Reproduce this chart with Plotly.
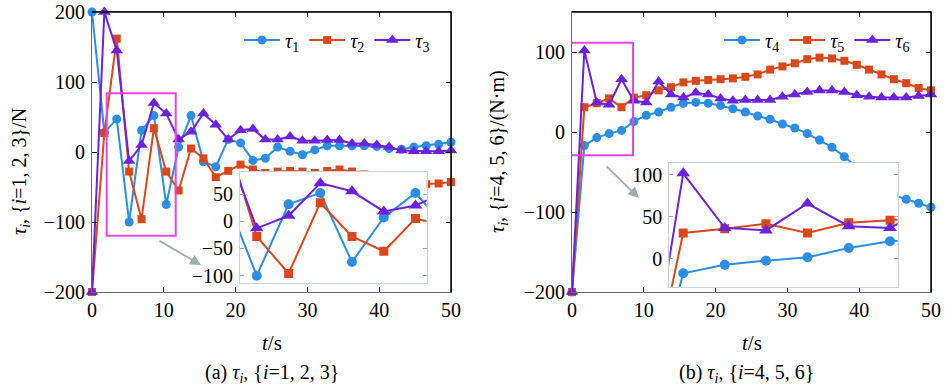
import plotly.graph_objects as go

# ---------------- data ----------------
t = [0.00, 1.72, 3.45, 5.17, 6.90, 8.62, 10.34, 12.07, 13.79, 15.52,
     17.24, 18.97, 20.69, 22.41, 24.14, 25.86, 27.59, 29.31, 31.03, 32.76,
     34.48, 36.21, 37.93, 39.66, 41.38, 43.10, 44.83, 46.55, 48.28, 50.00]

tau1 = [200, 28, 47, -100, 31, 52, -75, 7, 52, -14,
        -21, 18, 13, -12, -9, 7, 1, -4, 3, 9,
        9, 9, 9, 8, 5, 4, 7, 9, 11, 14]
tau2 = [-200, 27, 162, -28, -96, 34, -28, -55, 5, -9,
        -36, -27, -18, -25, -30, -28, -27, -28, -30, -27,
        -25, -28, -32, -36, -40, -44, -46, -46, -45, -43]
tau3 = [-200, 200, 145, -13, 10, 70, 55, 18, 29, 55,
        39, 18, 31, 33, 18, 18, 22, 16, 16, 17,
        17, 12, 12, 10, 7, 2, 1, 1, 1, 2]

tau4 = [-200, -17, -7, -2, 2, 13, 21, 25, 31, 36,
        37, 36, 33, 29, 25, 20, 16, 10, 5, -2,
        -10, -19, -31, -44, -57, -69, -79, -84, -89, -94]
tau5 = [-200, 31, 36, 42, 31, 43, 46, 52, 56, 62,
        64, 65, 66, 67, 69, 72, 78, 82, 86, 91,
        93, 92, 89, 84, 78, 72, 66, 61, 55, 52]
tau6 = [-200, 102, 37, 34, 66, 39, 37, 63, 47, 43,
        49, 47, 42, 39, 40, 40, 40, 44, 47, 50,
        52, 52, 50, 46, 44, 43, 43, 43, 45, 47]

names_a = ["<i>τ</i><sub>1</sub>", "<i>τ</i><sub>2</sub>", "<i>τ</i><sub>3</sub>"]
names_b = ["<i>τ</i><sub>4</sub>", "<i>τ</i><sub>5</sub>", "<i>τ</i><sub>6</sub>"]
x_ticks = [0, 10, 20, 30, 40, 50]
ya_ticks = [-200, -100, 0, 100, 200]
yb_ticks = [-200, -100, 0, 100]
ia_ticks = [-100, -50, 0, 50]
ib_ticks = [0, 50, 100]

# ---------------- style ----------------
BLUE = "#2b8de3"
RED = "#d8481a"
PURP = "#6a22de"
MAG = "#e545e8"
FONT = "Liberation Serif"
W, H = 945, 392

def px(x):
    return x / W

def py(y):
    return (H - y) / H

styles = [
    (BLUE, "circle", 9),
    (RED, "square", 8),
    (PURP, "triangle-up", 11),
]

fig = go.Figure()

series_a = [tau1, tau2, tau3]
series_b = [tau4, tau5, tau6]

for i, (ys, nm) in enumerate(zip(series_a, names_a)):
    c, sym, sz = styles[i]
    fig.add_trace(go.Scatter(x=t, y=ys, name=nm, mode="lines+markers",
                             line=dict(color=c, width=2),
                             marker=dict(color=c, symbol=sym, size=sz),
                             xaxis="x", yaxis="y", legend="legend",
                             cliponaxis=False))
for i, (ys, nm) in enumerate(zip(series_b, names_b)):
    c, sym, sz = styles[i]
    fig.add_trace(go.Scatter(x=t, y=ys, name=nm, mode="lines+markers",
                             line=dict(color=c, width=2),
                             marker=dict(color=c, symbol=sym, size=sz),
                             xaxis="x2", yaxis="y2", legend="legend2",
                             cliponaxis=False))
# insets
for i, ys in enumerate(series_a):
    c, sym, sz = styles[i]
    fig.add_trace(go.Scatter(x=t, y=ys, mode="lines+markers", showlegend=False,
                             line=dict(color=c, width=2),
                             marker=dict(color=c, symbol=sym, size=sz + 1),
                             xaxis="x3", yaxis="y3"))
for i, ys in enumerate(series_b):
    c, sym, sz = styles[i]
    fig.add_trace(go.Scatter(x=t, y=ys, mode="lines+markers", showlegend=False,
                             line=dict(color=c, width=2),
                             marker=dict(color=c, symbol=sym, size=sz + 1),
                             xaxis="x4", yaxis="y4"))

AXC = "#5e6a74"
tickfont = dict(family=FONT, size=20, color="black")

main_x = dict(range=[0, 50], tickvals=x_ticks, ticks="inside", ticklen=5,
              tickcolor="black", showline=True, linecolor=AXC, linewidth=1.2,
              mirror="ticks", showgrid=False, zeroline=False, tickfont=tickfont,
              ticklabelstandoff=0, automargin=False)
main_y = dict(ticks="inside", ticklen=5, tickcolor="black", showline=True,
              linecolor=AXC, linewidth=1.2, mirror="ticks", showgrid=False,
              zeroline=False, tickfont=tickfont, ticklabelstandoff=2,
              automargin=False)

dom_y = [py(292), py(12)]
INC = "#c9d2da"
inset_x = dict(showticklabels=False, ticks="", showline=True, linecolor=INC,
               linewidth=1, mirror=True, showgrid=False, zeroline=False,
               automargin=False)
inset_y = dict(ticks="inside", ticklen=4, tickcolor="#9aa4ac", showline=True,
               linecolor=INC, linewidth=1, mirror="ticks", showgrid=False,
               zeroline=False, tickfont=tickfont, ticklabelstandoff=2,
               automargin=False)

leg = dict(orientation="h", xanchor="left", yanchor="middle",
           bgcolor="rgba(0,0,0,0)", font=dict(family=FONT, size=20),
           itemwidth=36, tracegroupgap=0)

fig.update_layout(
    width=W, height=H,
    margin=dict(l=0, r=0, t=0, b=0, autoexpand=False),
    paper_bgcolor="white", plot_bgcolor="white",
    font=dict(family=FONT, size=20, color="black"),
    xaxis=dict(main_x, domain=[px(92), px(451)], anchor="y"),
    yaxis=dict(main_y, domain=dom_y, range=[-200, 200], tickvals=ya_ticks, anchor="x"),
    xaxis2=dict(main_x, domain=[px(572), px(931)], anchor="y2"),
    yaxis2=dict(main_y, domain=dom_y, range=[-200, 150], tickvals=yb_ticks, anchor="x2"),
    xaxis3=dict(inset_x, domain=[px(240), px(426.7)], range=[4.26, 14.4], anchor="y3"),
    yaxis3=dict(inset_y, domain=[py(283.3), py(171.7)], range=[-114, 91],
                tickvals=ia_ticks, anchor="x3"),
    xaxis4=dict(inset_x, domain=[px(669.3), px(897.7)], range=[1.14, 10.66], anchor="y4"),
    yaxis4=dict(inset_y, domain=[py(286.7), py(162.7)], range=[-33, 114.6],
                tickvals=ib_ticks, anchor="x4"),
    legend=dict(leg, x=px(239), y=py(40)),
    legend2=dict(leg, x=px(719), y=py(40)),
)

shapes = []
# black top/right frame edges of the main panels
for xr, yr in [("x domain", "y domain"), ("x2 domain", "y2 domain")]:
    shapes.append(dict(type="line", xref=xr, yref=yr, x0=0, x1=1, y0=1, y1=1,
                       line=dict(color="black", width=1.5), layer="above"))
    shapes.append(dict(type="line", xref=xr, yref=yr, x0=1, x1=1, y0=0, y1=1,
                       line=dict(color="black", width=1.5), layer="above"))
# magenta zoom boxes
shapes.append(dict(type="rect", xref="x", yref="y", x0=2.05, x1=11.66, y0=-119.6, y1=83.9,
                   line=dict(color=MAG, width=2), layer="above"))
shapes.append(dict(type="rect", xref="x2", yref="y2", x0=-0.47, x1=8.5, y0=-29, y1=111.6,
                   line=dict(color=MAG, width=2), layer="above"))
fig.update_layout(shapes=shapes)

ann = []
ARC = "#9eaab2"
ann.append(dict(xref="paper", yref="paper", x=px(201), y=py(265), ax=-43, ay=-25,
                showarrow=True, arrowhead=2, arrowsize=1.2, arrowwidth=1.8,
                arrowcolor=ARC, text=""))
ann.append(dict(xref="paper", yref="paper", x=px(639), y=py(198), ax=-34, ay=-33,
                showarrow=True, arrowhead=2, arrowsize=1.2, arrowwidth=1.8,
                arrowcolor=ARC, text=""))

def label(x, y, text, size=20, angle=0):
    return dict(xref="paper", yref="paper", x=px(x), y=py(y), showarrow=False,
                xanchor="center", yanchor="middle", textangle=angle,
                text=text, font=dict(family=FONT, size=size, color="black"))

ann.append(label(272, 343, "<i>t</i>/s", 21))
ann.append(label(752, 343, "<i>t</i>/s", 21))
ann.append(label(272, 373, "(a) <i>τ</i><sub><i>i</i></sub>, {<i>i</i>=1, 2, 3}"))
ann.append(label(746, 373, "(b) <i>τ</i><sub><i>i</i></sub>, {<i>i</i>=4, 5, 6}"))
ann.append(label(20, 172, "<i>τ</i><sub><i>i</i></sub>, {<i>i</i>=1, 2, 3}/N", angle=-90))
ann.append(label(498, 152, "<i>τ</i><sub><i>i</i></sub>, {<i>i</i>=4, 5, 6}/(N·m)", angle=-90))
fig.update_layout(annotations=ann)

fig.write_html("out.html", config={"displayModeBar": False},
               post_script="document.body.style.margin='0';document.body.style.overflow='hidden';")
